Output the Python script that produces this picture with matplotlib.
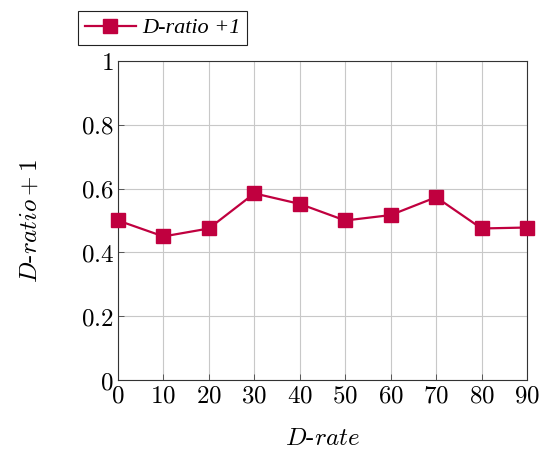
import matplotlib.pyplot as plt
import numpy as np

plt.rcParams['mathtext.fontset'] = 'cm'
plt.rcParams['font.family'] = 'serif'
plt.rcParams['font.serif'] = ['DejaVu Serif']

d_rate = [0, 10, 20, 30, 40, 50, 60, 70, 80, 90]
d_ratio = [0.50, 0.45, 0.475, 0.585, 0.552, 0.50, 0.517, 0.573, 0.475, 0.478]
xticks = [0, 10, 20, 30, 40, 50, 60, 70, 80, 90]
yticks = [0, 0.2, 0.4, 0.6, 0.8, 1]

color = '#c0003f'

fig = plt.figure(figsize=(5.53, 4.53), dpi=100)
ax = fig.add_axes([118/553, 1 - 380/453, (527-118)/553, (380-61)/453])

ax.plot(d_rate, d_ratio, color=color, marker='s', markersize=9.5, linewidth=1.6,
        label='D-ratio +1', clip_on=False, zorder=3)

ax.set_xlim(0, 90)
ax.set_ylim(0, 1)
ax.set_xticks(xticks)
ax.set_yticks(yticks)
ax.set_xticklabels(['$%d$' % v for v in xticks], fontsize=18)
ax.set_yticklabels(['$0$', '$0.2$', '$0.4$', '$0.6$', '$0.8$', '$1$'], fontsize=18)
ax.tick_params(direction='in', length=4, width=0.6, color='#444444', pad=3)
ax.grid(True, color='#c8c8c8', linewidth=0.8)
ax.set_axisbelow(True)
for s in ax.spines.values():
    s.set_linewidth(0.8)
    s.set_color('#333333')

ax.set_xlabel(r'$D\text{-}rate$', fontsize=18, labelpad=14)
ax.set_ylabel(r'$D\text{-}ratio + 1$', fontsize=18, labelpad=28)

leg = ax.legend(loc='lower left', bbox_to_anchor=(78/553, 1 - 45/453), bbox_transform=fig.transFigure,
                prop={'family': 'Liberation Serif', 'style': 'italic', 'size': 16},
                fancybox=False, edgecolor='#222222', framealpha=1, handlelength=2.3,
                handletextpad=0.3, borderpad=0.3, borderaxespad=0)
leg.get_frame().set_linewidth(0.8)

fig.savefig('out.png', dpi=100)
